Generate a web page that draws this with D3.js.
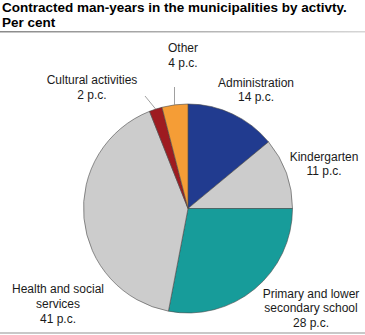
<!DOCTYPE html>
<html>
<head>
<meta charset="utf-8">
<script src="https://cdn.jsdelivr.net/npm/d3@7"></script>
<style>
  html, body { margin: 0; padding: 0; background: #fff; }
  svg { display: block; font-family: "Liberation Sans", Arial, sans-serif; }
</style>
</head>
<body>
<svg id="chart" width="365" height="335"></svg>
<script>
// Share of contracted man-years, clockwise from twelve o'clock
const categories = ["Administration", "Kindergarten", "Primary and lower secondary school",
                    "Health and social services", "Cultural activities", "Other"];
const values = [14, 11, 28, 41, 2, 4];
const colors = ["#213b8f", "#cccccc", "#179c9a", "#cccccc", "#9e1b20", "#f59d36"];

// Label lines for each slice, with the text anchor position
const labelLines = [
  ["Administration", "14 p.c."],
  ["Kindergarten", "11 p.c."],
  ["Primary and lower", "secondary school", "28 p.c."],
  ["Health and social", "services", "41 p.c."],
  ["Cultural activities", "2 p.c."],
  ["Other", "4 p.c."]
];
const labelPos = [[256, 86.5], [324, 160.5], [311, 297.5], [58, 293.3], [92, 84], [183, 51.7]];
const lineHeight = 14.8;

const svg = d3.select("#chart");
const W = 365;

// Title
const title = svg.append("text")
  .attr("font-size", 13.5).attr("font-weight", "bold").attr("fill", "#000");
title.append("tspan").attr("x", 2).attr("y", 12).text("Contracted man-years in the municipalities by activty.");
title.append("tspan").attr("x", 2).attr("y", 27).text("Per cent");

// Rule under the title, fading to the right
const defs = svg.append("defs");
const grad = defs.append("linearGradient").attr("id", "rule");
grad.append("stop").attr("offset", "0%").attr("stop-color", "#8a8a8a");
grad.append("stop").attr("offset", "100%").attr("stop-color", "#d6d6d6");
svg.append("rect").attr("x", 0).attr("y", 31).attr("width", W).attr("height", 1.5)
  .attr("fill", "url(#rule)");

// Bottom rule
svg.append("rect").attr("x", 0).attr("y", 332).attr("width", W).attr("height", 2)
  .attr("fill", "#c8c8c8");

// Pie
const cx = 188, cy = 208.5, r = 104.5;
const pie = d3.pie().sort(null).value(d => d);
const arcs = pie(values);
const arc = d3.arc().innerRadius(0).outerRadius(r);

const g = svg.append("g").attr("transform", `translate(${cx},${cy})`);
g.selectAll("path").data(arcs).enter().append("path")
  .attr("d", arc)
  .attr("fill", (d, i) => colors[i])
  .attr("stroke", "#4a4a4a")
  .attr("stroke-width", 0.6);

// Leader lines for the two narrow slices
const leaderEnds = { 4: [145, 96], 5: [174.5, 87] };
Object.entries(leaderEnds).forEach(([i, end]) => {
  const a = arcs[i];
  const mid = (a.startAngle + a.endAngle) / 2;
  const px = cx + r * Math.sin(mid), py = cy - r * Math.cos(mid);
  const sx = i == 5 ? end[0] : px;
  svg.append("line")
    .attr("x1", sx).attr("y1", py)
    .attr("x2", end[0]).attr("y2", end[1])
    .attr("stroke", "#888").attr("stroke-width", 0.8);
});

// Slice labels
labelLines.forEach((lines, i) => {
  const t = svg.append("text")
    .attr("text-anchor", "middle")
    .attr("font-size", 12)
    .attr("fill", "#1a1a1a");
  lines.forEach((s, k) => {
    t.append("tspan")
      .attr("x", labelPos[i][0])
      .attr("y", labelPos[i][1] + k * lineHeight)
      .text(s);
  });
});
</script>
</body>
</html>
